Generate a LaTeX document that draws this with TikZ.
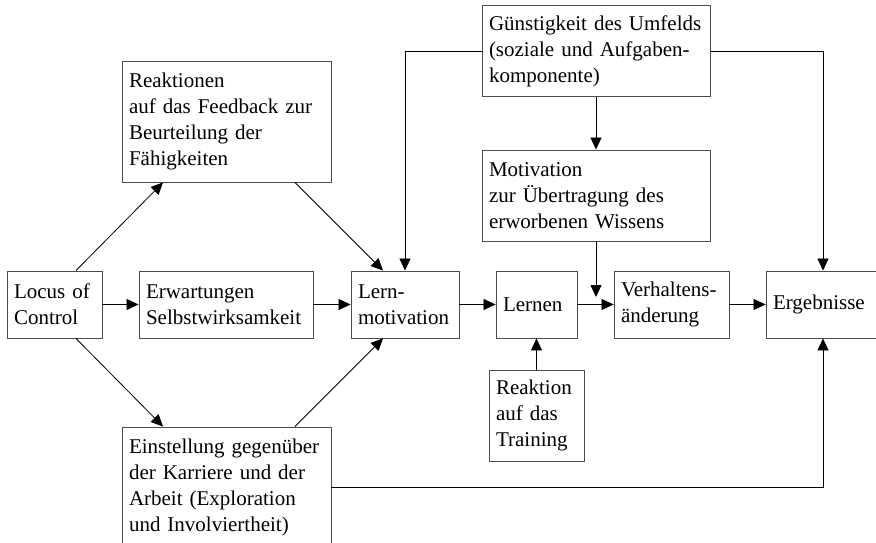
\documentclass[tikz,border=0pt]{standalone}
\usepackage{fontspec}
\setmainfont{Liberation Serif}
\usetikzlibrary{arrows.meta}
\hyphenpenalty=10000
\begin{document}
\begin{tikzpicture}[
    x=1pt, y=-1pt,
    every node/.style={font=\fontsize{21}{26}\selectfont},
    stage/.style={draw=black!70, line width=0.9pt, inner xsep=7pt, inner ysep=0pt, align=left},
    flow/.style={-{Triangle[length=12pt,width=11pt]}, line width=0.8pt},
]
\clip (0,0) rectangle (876,543);
% upper row of feedback boxes
\node[stage, text width=195pt, minimum height=121pt] (feedback) at (226.5,121.5) {Reaktionen\\auf das Feedback zur\\Beurteilung der\\Fähigkeiten};
\node[stage, text width=214pt, minimum height=91pt] (umfeld) at (596,51) {Günstigkeit des Umfelds\\(soziale und Aufgaben-\\komponente)};
\node[stage, text width=214pt, minimum height=91pt] (transfer) at (596,195.5) {Motivation\\zur Übertragung des\\erworbenen Wissens};
% main chain
\node[stage, text width=81pt, minimum height=67pt] (locus) at (54.5,304.5) {Locus of\\Control};
\node[stage, text width=160pt, minimum height=67pt] (erwartung) at (226,304.5) {Erwartungen\\Selbstwirksamkeit};
\node[stage, text width=94pt, minimum height=67pt] (lernmot) at (405,304.5) {Lern-\\motivation};
\node[stage, text width=67pt, minimum height=67pt] (lernen) at (536.5,304.5) {Lernen};
\node[stage, text width=101pt, minimum height=67pt] (verhalten) at (671.5,304.5) {Verhaltens-\\änderung};
\node[stage, text width=100pt, minimum height=67pt] (ergebnis) at (823,304.5) {Ergebnisse};
% lower boxes
\node[stage, text width=81pt, minimum height=91pt] (reaktion) at (536.5,415.5) {Reaktion\\auf das\\Training};
\node[stage, text width=195pt, minimum height=121pt] (einstellung) at (226.5,487.5) {Einstellung gegenüber\\der Karriere und der\\Arbeit (Exploration\\und Involviertheit)};
\coordinate (merge) at (596,297);

\draw[flow] (locus) -- (erwartung);
\draw[flow] (erwartung) -- (lernmot);
\draw[flow] (lernmot) -- (lernen);
\draw[flow] (lernen) -- (verhalten);
\draw[flow] (verhalten) -- (ergebnis);
\draw[flow] ([xshift=21.5pt]locus.north) -- ([xshift=-63.5pt]feedback.south);
\draw[flow] ([xshift=68.5pt]feedback.south) -- ([xshift=-22pt]lernmot.north);
\draw[flow] ([xshift=21.5pt]locus.south) -- ([xshift=-63.5pt]einstellung.north);
\draw[flow] ([xshift=68.5pt]einstellung.north) -- ([xshift=-22pt]lernmot.south);
\draw[flow] (umfeld.west) -| (lernmot.north);
\draw[flow] (umfeld.east) -| (ergebnis.north);
\draw[flow] (umfeld) -- (transfer);
\draw[flow] (transfer) -- (merge);
\draw[flow] (reaktion) -- (lernen);
\draw[flow] (einstellung.east) -| (ergebnis.south);
\end{tikzpicture}
\end{document}
